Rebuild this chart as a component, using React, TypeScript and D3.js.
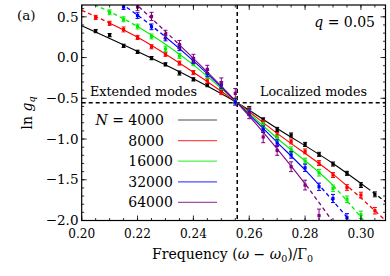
import React from "react";
import * as d3 from "d3";

// measured points (x = frequency), null = outside the frame
const freqs = [0.205, 0.21, 0.215, 0.22, 0.225, 0.23, 0.235, 0.24, 0.245, 0.25, 0.255,
  0.26, 0.265, 0.27, 0.275, 0.28, 0.285, 0.29, 0.295, 0.3, 0.305];

const lnG4000 = [0.325, 0.275, 0.144, 0.07, -0.007, -0.084, -0.19, -0.268, -0.338, -0.408, -0.543,
  -0.62, -0.76, -0.882, -0.951, -1.066, -1.188, -1.307, -1.421, -1.565, -1.679];
const lnG8000 = [0.493, 0.42, 0.345, 0.247, 0.132, 0.04, -0.068, -0.185, -0.285, -0.425, -0.54,
  -0.64, -0.8, -0.95, -1.03, -1.152, -1.295, -1.442, -1.595, -1.688, -1.88];
const lnG16000 = [null, 0.555, 0.47, 0.38, 0.259, 0.105, 0.02, -0.07, -0.228, -0.359, -0.53,
  -0.65, -0.83, -0.99, -1.13, -1.27, -1.414, -1.605, -1.74, -1.93, null];
const lnG32000 = [null, null, 0.62, 0.515, 0.377, 0.24, 0.12, -0.04, -0.195, -0.338, -0.545,
  -0.67, -0.88, -1.05, -1.195, -1.353, -1.586, -1.73, -1.966, null, null];
const lnG64000 = [null, null, null, 0.62, 0.505, 0.285, 0.16, -0.01, -0.145, -0.31, -0.44,
  -0.69, -0.975, -1.14, -1.34, -1.565, -1.94, null, null, null, null];

const err4000 = [0.02, 0.02, 0.02, 0.02, 0.02, 0.02, 0.025, 0.02, 0.02, 0.02, 0.02,
  0.02, 0.02, 0.025, 0.025, 0.025, 0.025, 0.025, 0.025, 0.03, 0.03];
const err8000 = [0.025, 0.025, 0.03, 0.025, 0.025, 0.025, 0.025, 0.025, 0.03, 0.03, 0.03,
  0.03, 0.03, 0.03, 0.03, 0.03, 0.03, 0.03, 0.035, 0.035, 0.04];
const err16000 = [0, 0.03, 0.03, 0.03, 0.03, 0.035, 0.03, 0.03, 0.03, 0.03, 0.03,
  0.03, 0.035, 0.035, 0.035, 0.035, 0.04, 0.04, 0.04, 0.045, 0];
const err32000 = [0, 0, 0.03, 0.035, 0.035, 0.035, 0.035, 0.035, 0.04, 0.04, 0.04,
  0.04, 0.04, 0.04, 0.04, 0.045, 0.045, 0.05, 0.05, 0, 0];
const err64000 = [0, 0, 0, 0.045, 0.05, 0.05, 0.05, 0.05, 0.05, 0.06, 0.06,
  0.06, 0.07, 0.06, 0.06, 0.06, 0.08, 0, 0, 0, 0];

// fitted curves (knots) and the range where each fit is drawn solid
const fitX4000 = [0.2, 0.22, 0.24, 0.2557, 0.27, 0.29, 0.3088];
const fitY4000 = [0.39, 0.075, -0.26, -0.555, -0.87, -1.3, -1.77];
const fitX8000 = [0.2, 0.22, 0.24, 0.2557, 0.27, 0.29, 0.3088];
const fitY8000 = [0.58, 0.25, -0.18, -0.555, -0.93, -1.43, -2.0];
const fitX16000 = [0.2, 0.22, 0.24, 0.2557, 0.27, 0.29, 0.301];
const fitY16000 = [0.72, 0.38, -0.09, -0.555, -0.99, -1.57, -2.0];
const fitX32000 = [0.21, 0.22, 0.24, 0.2557, 0.27, 0.28, 0.296];
const fitY32000 = [0.76, 0.52, -0.04, -0.555, -1.04, -1.38, -2.0];
const fitX64000 = [0.215, 0.22, 0.24, 0.2557, 0.27, 0.28, 0.2896];
const fitY64000 = [0.8, 0.64, -0.01, -0.555, -1.12, -1.55, -2.0];

const sizes = ["4000", "8000", "16000", "32000", "64000"];
const colors = ["#000000", "#ff0000", "#00ee00", "#0000ff", "#800080"];
const solidFrom = [0.2, 0.21, 0.22, 0.23, 0.235];
const solidTo = [0.303, 0.296, 0.29, 0.285, 0.28];

const xTicks = [0.2, 0.22, 0.24, 0.26, 0.28, 0.3];
const yTicks = [0.5, 0.0, -0.5, -1.0, -1.5, -2.0];
const critFreq = 0.2557;
const critLnG = -0.555;

const W = 390;
const H = 276;
const L = 81.7, R = 385.5, T = 5, B = 220.5;
const serif = "'DejaVu Serif', serif";

const App = () => {
  const x = d3.scaleLinear().domain([0.2, 0.3088]).range([L, R]);
  const y = d3.scaleLinear().domain([-2.0, 0.645]).range([B, T]);

  const series = [
    { vals: lnG4000, errs: err4000, fx: fitX4000, fy: fitY4000 },
    { vals: lnG8000, errs: err8000, fx: fitX8000, fy: fitY8000 },
    { vals: lnG16000, errs: err16000, fx: fitX16000, fy: fitY16000 },
    { vals: lnG32000, errs: err32000, fx: fitX32000, fy: fitY32000 },
    { vals: lnG64000, errs: err64000, fx: fitX64000, fy: fitY64000 },
  ];

  const fitPath = (fx: number[], fy: number[]) =>
    d3
      .line<number>()
      .x((d, i) => x(fx[i]))
      .y((d) => y(d))
      .curve(d3.curveMonotoneX)(fy) || "";

  const minorX = d3.range(0.2, 0.3089, 0.005);
  const minorY = d3.range(-2.0, 0.65, 0.1);

  const fmtX = d3.format(".2f");
  const fmtY = (v: number) => (v < 0 ? "\u2212" + Math.abs(v).toFixed(1) : v.toFixed(1));

  const legendRows = sizes.map((s, i) => 120 + i * 20.6);

  return (
    <div style={{ position: "absolute", left: 0, top: 0, fontFamily: serif }}>
      <svg width={W} height={H} fontFamily={serif} style={{ display: "block" }}>
        <defs>
          <clipPath id="plot">
            <rect x={L} y={T} width={R - L} height={B - T} />
          </clipPath>
          {series.map((s, i) => (
            <clipPath id={"solid" + i} key={"s" + i}>
              <rect x={x(solidFrom[i])} y={T} width={x(solidTo[i]) - x(solidFrom[i])} height={B - T} />
            </clipPath>
          ))}
          {series.map((s, i) => (
            <clipPath id={"dash" + i} key={"d" + i}>
              <rect x={L} y={T} width={x(solidFrom[i]) - L} height={B - T} />
              <rect x={x(solidTo[i])} y={T} width={R - x(solidTo[i])} height={B - T} />
            </clipPath>
          ))}
        </defs>

        <rect width={W} height={H} fill="#fff" />

        {/* reference lines */}
        <line x1={x(critFreq)} x2={x(critFreq)} y1={T} y2={B} stroke="#000" strokeWidth={1.5} strokeDasharray="4,3" />
        <line x1={L} x2={R} y1={y(critLnG)} y2={y(critLnG)} stroke="#000" strokeWidth={1.5} strokeDasharray="4,3" />

        {/* fits */}
        <g clipPath="url(#plot)">
          {series.map((s, i) => (
            <g key={"f" + i}>
              <path d={fitPath(s.fx, s.fy)} fill="none" stroke={colors[i]} strokeWidth={1.3} clipPath={`url(#dash${i})`} strokeDasharray="4,3" />
              <path d={fitPath(s.fx, s.fy)} fill="none" stroke={colors[i]} strokeWidth={1.1} clipPath={`url(#solid${i})`} />
            </g>
          ))}
        </g>

        {/* points with error bars */}
        <g clipPath="url(#plot)">
          {series.map((s, i) =>
            s.vals.map((v, j) => {
              if (v === null) return null;
              const cx = x(freqs[j]);
              const e = s.errs[j];
              const y0 = y(v - e);
              const y1 = y(v + e);
              return (
                <g key={i + "-" + j} stroke={colors[i]} fill={colors[i]}>
                  <line x1={cx} x2={cx} y1={y0} y2={y1} strokeWidth={1} />
                  <line x1={cx - 2} x2={cx + 2} y1={y0} y2={y0} strokeWidth={1} />
                  <line x1={cx - 2} x2={cx + 2} y1={y1} y2={y1} strokeWidth={1} />
                  <rect x={cx - 1.6} y={y(v) - 1.6} width={3.2} height={3.2} stroke="none" />
                </g>
              );
            })
          )}
        </g>

        {/* frame ticks */}
        <g stroke="#000" strokeWidth={0.8}>
          {minorX.map((v, i) => (
            <g key={"mx" + i}>
              <line x1={x(v)} x2={x(v)} y1={B} y2={B - 2.5} />
              <line x1={x(v)} x2={x(v)} y1={T} y2={T + 2.5} />
            </g>
          ))}
          {xTicks.map((v, i) => (
            <g key={"Mx" + i}>
              <line x1={x(v)} x2={x(v)} y1={B} y2={B - 5} />
              <line x1={x(v)} x2={x(v)} y1={T} y2={T + 5} />
            </g>
          ))}
          {minorY.map((v, i) => (
            <g key={"my" + i}>
              <line x1={L} x2={L + 2.5} y1={y(v)} y2={y(v)} />
              <line x1={R} x2={R - 2.5} y1={y(v)} y2={y(v)} />
            </g>
          ))}
          {yTicks.map((v, i) => (
            <g key={"My" + i}>
              <line x1={L} x2={L + 5} y1={y(v)} y2={y(v)} />
              <line x1={R} x2={R - 5} y1={y(v)} y2={y(v)} />
            </g>
          ))}
        </g>
        <rect x={L} y={T} width={R - L} height={B - T} fill="none" stroke="#000" strokeWidth={1.2} />

        {/* tick labels */}
        <g fill="#000">
          {xTicks.map((v, i) => (
            <text key={"lx" + i} x={x(v)} y={238} textAnchor="middle" fontSize={13} textLength={27} lengthAdjust="spacingAndGlyphs">
              {fmtX(v)}
            </text>
          ))}
          {yTicks.map((v, i) => (
            <text key={"ly" + i} x={78.5} y={y(v)} dy="0.35em" textAnchor="end" fontSize={13.5}>
              {fmtY(v)}
            </text>
          ))}
        </g>

        {/* axis titles */}
        <text x={152} y={259} fontSize={14}>
          Frequency (<tspan fontStyle="italic">ω</tspan> − <tspan fontStyle="italic">ω</tspan>
          <tspan dy={3} fontSize={9.5}>0</tspan>
          <tspan dy={-3}>)/Γ</tspan>
          <tspan dy={3} fontSize={9.5}>0</tspan>
        </text>
        <text transform="translate(32,113) rotate(-90)" textAnchor="middle" fontSize={14}>
          ln <tspan fontStyle="italic">g</tspan>
          <tspan dy={3} fontSize={9.5} fontStyle="italic">q</tspan>
        </text>

        <text x={17} y={19.5} fontSize={13.5}>(a)</text>
        <text x={375} y={26.5} fontSize={14} textAnchor="end">
          <tspan fontStyle="italic">q</tspan> = 0.05
        </text>
        <text x={90} y={96} fontSize={13.5} textLength={107} lengthAdjust="spacingAndGlyphs">Extended modes</text>
        <text x={260} y={96} fontSize={13.5} textLength={107} lengthAdjust="spacingAndGlyphs">Localized modes</text>

        {/* legend */}
        <g fontSize={14}>
          <text x={124} y={legendRows[0]} dy="0.35em" textAnchor="end">
            <tspan fontStyle="italic">N</tspan> =
          </text>
          {sizes.map((s, i) => (
            <g key={"lg" + i}>
              <text x={128.3} y={legendRows[i]} dy="0.35em">
                {s}
              </text>
              <line x1={178} x2={217} y1={legendRows[i]} y2={legendRows[i]} stroke={colors[i]} strokeWidth={1.2} strokeOpacity={0.7} />
            </g>
          ))}
        </g>
      </svg>
    </div>
  );
};

export default App;
